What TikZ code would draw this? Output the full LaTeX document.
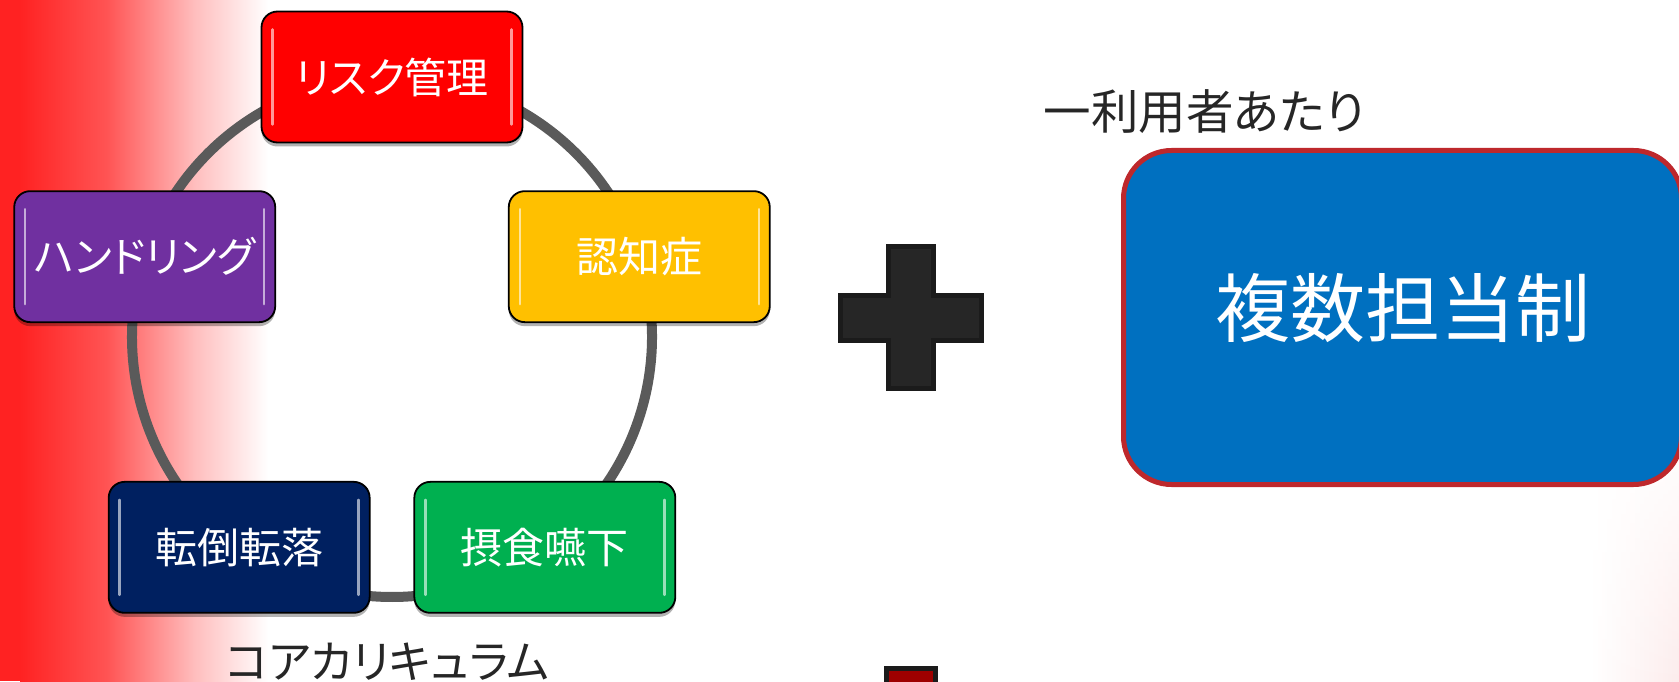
\documentclass[tikz,border=0pt]{standalone}
\usepackage{fontspec}
\newfontfamily\jp[RawFeature=+palt]{Noto Sans CJK JP}
\usetikzlibrary{shadows,backgrounds,calc,fadings}
\definecolor{bgred}{RGB}{255,34,34}
\definecolor{bgred2}{RGB}{255,84,84}
\definecolor{bgred3}{RGB}{255,188,188}
\definecolor{bgpink}{RGB}{252,236,236}
\definecolor{conngray}{RGB}{90,90,90}
\definecolor{cred}{RGB}{255,0,0}
\definecolor{cyellow}{RGB}{255,192,0}
\definecolor{cpurple}{RGB}{112,48,160}
\definecolor{cnavy}{RGB}{0,32,96}
\definecolor{cgreen}{RGB}{0,176,80}
\definecolor{cblue}{RGB}{0,112,192}
\definecolor{cborder}{RGB}{190,40,44}
\definecolor{plusfill}{RGB}{38,38,38}
\definecolor{plusline}{RGB}{27,27,27}
\definecolor{darkred}{RGB}{158,0,0}
\definecolor{txtgray}{RGB}{38,38,38}
\tikzset{
  cbox/.style={draw=black, line width=1.8pt, rounded corners=16pt,
    minimum width=261pt, minimum height=131pt, inner sep=0pt,
    text=white, font={\jp\fontsize{42}{48}\selectfont}, fill=#1,
    drop shadow={shadow xshift=0pt, shadow yshift=-4pt, opacity=0.3, fill=black},
    path picture={
      \draw[white, opacity=0.6, line width=2.5pt, line cap=round]
        ([shift={(11pt,18pt)}]path picture bounding box.south west) --
        ([shift={(11pt,-18pt)}]path picture bounding box.north west);
      \draw[white, opacity=0.6, line width=2.5pt, line cap=round]
        ([shift={(-11pt,18pt)}]path picture bounding box.south east) --
        ([shift={(-11pt,-18pt)}]path picture bounding box.north east);
    }},
  conn/.style={draw=conngray, line width=10pt},
  bigbox/.style={draw=cborder, line width=5pt, fill=cblue, rounded corners=48pt,
    minimum width=558pt, minimum height=334pt, inner sep=0pt},
  plainlbl/.style={text=txtgray, inner sep=0pt},
}
\begin{document}
\begin{tikzpicture}[x=1pt,y=1pt]
\useasboundingbox (0,0) rectangle (1679,681);
\clip (0,0) rectangle (1679,681);
\coordinate (ctr) at (392,344);
% nodes of the ring
\node[cbox=cred]    (risk)     at ($(ctr)+(90:260)$)   {リスク管理};
\node[cbox=cyellow] (ninchi)   at ($(ctr)+(18:260)$)   {認知症};
\node[cbox=cgreen]  (sesshoku) at ($(ctr)+(-54:260)$)  {摂食嚥下};
\node[cbox=cnavy]   (tento)    at ($(ctr)+(-126:260)$) {転倒転落};
\node[cbox=cpurple] (hand)     at ($(ctr)+(162:260)$)  {ハンドリング};
\begin{scope}[on background layer]
  \fill[bgred] (0,0) rectangle (20.5,681);
  \shade[left color=bgred, right color=bgred2] (20,0) rectangle (107.5,681);
  \shade[left color=bgred2, right color=bgred3] (107,0) rectangle (193.5,681);
  \shade[left color=bgred3, right color=white] (193,0) rectangle (268,681);
  \shade[left color=white, right color=bgpink, path fading=north] (1590,0) rectangle (1679,260);
  \draw[conn] (risk.center) arc[start angle=90, end angle=18, radius=260pt];
  \draw[conn] (ninchi.center) arc[start angle=18, end angle=-54, radius=260pt];
  \draw[conn] (sesshoku.center) arc[start angle=-54, end angle=-126, radius=260pt];
  \draw[conn] (tento.center) arc[start angle=-126, end angle=-198, radius=260pt];
  \draw[conn] (hand.center) arc[start angle=162, end angle=90, radius=260pt];
\end{scope}
\node[plainlbl, anchor=base, font={\jp\fontsize{45}{50}\selectfont}] (core) at (387.5,3) {コアカリキュラム};
% plus sign
\filldraw[fill=plusfill, draw=plusline, line width=5pt]
  (888.5,434.5) -- (933.5,434.5) -- (933.5,385.5) -- (981.5,385.5) -- (981.5,340.5)
  -- (933.5,340.5) -- (933.5,292.5) -- (888.5,292.5) -- (888.5,340.5) -- (840.5,340.5)
  -- (840.5,385.5) -- (888.5,385.5) -- cycle;
% cut-off dark red sign at the bottom
\filldraw[fill=darkred, draw=plusline, line width=5pt] (886.5,-10) rectangle (935.5,12.5);
% right side
\node[plainlbl, anchor=base, font={\jp\fontsize{47.5}{52}\selectfont}] (per) at (1204,551) {一利用者あたり};
\node[bigbox] (multi) at (1402.5,363.5) {};
\node[text=white, inner sep=0pt, font={\jp\fontsize{75}{80}\selectfont}] (multitxt) at (1403,373) {複数担当制};
\end{tikzpicture}
\end{document}
